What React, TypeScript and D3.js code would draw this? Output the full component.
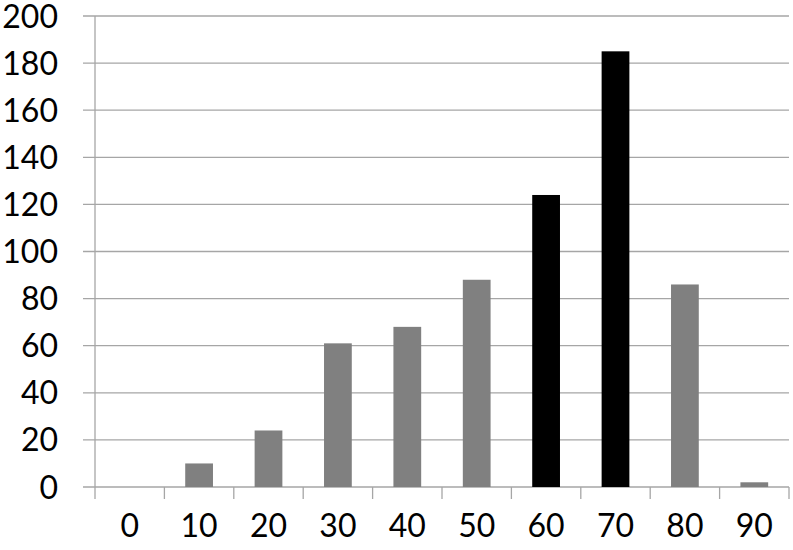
import React from 'react';
import * as d3 from 'd3';

const categories = ['0', '10', '20', '30', '40', '50', '60', '70', '80', '90'];
const values = [0, 10, 24, 61, 68, 88, 124, 185, 86, 2];
const highlighted = ['60', '70'];
const yTicks = [0, 20, 40, 60, 80, 100, 120, 140, 160, 180, 200];

const W = 793;
const H = 550;
const margin = { top: 16, right: 4, bottom: 63, left: 95 };
const FONT = 'Lato, "Open Sans", sans-serif';

export default function App() {
  const x = d3.scaleBand<string>()
    .domain(categories)
    .range([margin.left, W - margin.right])
    .paddingInner(0.6)
    .paddingOuter(0.3);

  const y = d3.scaleLinear()
    .domain([0, 200])
    .range([H - margin.bottom, margin.top]);

  const step = x.step();
  const base = y(0);
  const tickEdges = d3.range(categories.length + 1).map(i => margin.left + i * step);

  return (
    <svg width={W} height={H} style={{ position: 'absolute', left: 0, top: 0, background: '#fff' }}>
      {yTicks.map(t => (
        <g key={t}>
          <line x1={margin.left - 12} x2={W - margin.right} y1={y(t)} y2={y(t)} stroke="#a6a6a6" strokeWidth={1.3} />
          <text x={58} y={y(t)} dy="0.36em" textAnchor="end" fontFamily={FONT} fontSize={32} fill="#000">{t}</text>
        </g>
      ))}
      <line x1={margin.left} x2={margin.left} y1={margin.top} y2={base} stroke="#a6a6a6" strokeWidth={1.3} />
      {tickEdges.map((e, i) => (
        <line key={i} x1={e} x2={e} y1={base} y2={base + 12} stroke="#a6a6a6" strokeWidth={1.3} />
      ))}
      {categories.map((c, i) => (
        <rect key={c} x={x(c)} y={y(values[i])} width={x.bandwidth()} height={base - y(values[i])}
          fill={highlighted.includes(c) ? '#000' : '#808080'} />
      ))}
      {categories.map(c => (
        <text key={c} x={(x(c) as number) + x.bandwidth() / 2} y={537} textAnchor="middle" fontFamily={FONT} fontSize={32} fill="#000">{c}</text>
      ))}
    </svg>
  );
}
